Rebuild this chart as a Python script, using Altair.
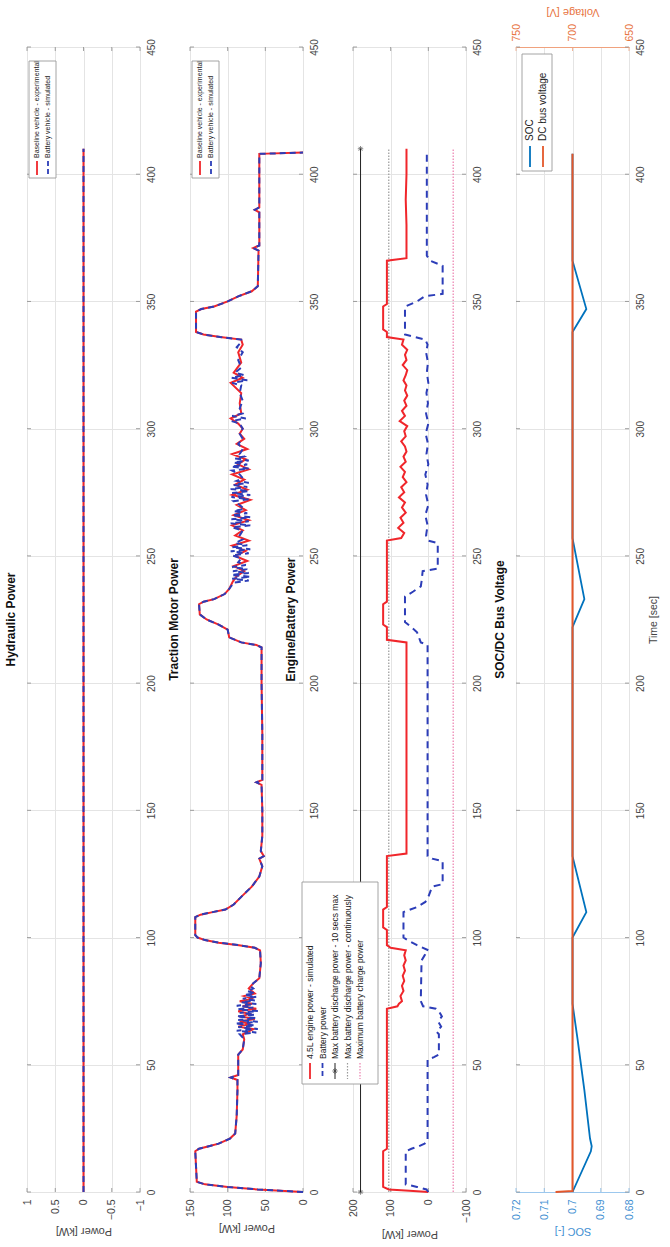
import altair as alt
import pandas as pd

FONT = "Liberation Sans"
RED = "#f0262b"
BLUE = "#2c3db8"
GRID = "#e4e4e4"
FRAME = "#a3a3a3"
TICK = "#8a8a8a"
TXT = "#444444"
SOC_C = "#0072BD"
SOC_LBL = "#3f8fd2"
VOLT_C = "#e4572a"
VOLT_LBL = "#e8743f"

PANEL_W = 113
PANEL_H = 1145
TICK_LEN = 4

# ---------------- data ----------------
time_ticks = [0, 50, 100, 150, 200, 250, 300, 350, 400, 450]

# Hydraulic power [kW]
hyd_time = [0, 410]
hyd_baseline = [0, 0]
hyd_battery = [0, 0]
hyd_ticks = [-1, -0.5, 0, 0.5, 1]

# Traction motor power [kW], baseline vehicle (experimental)
trac_time = [0, 1, 2, 3, 4, 16, 17, 18, 19, 21, 23, 30, 40, 44, 45, 46, 54, 56, 60, 62,
             64, 65, 66, 67, 68, 69, 70, 71, 72, 73, 74, 75, 76, 77, 78, 80, 82, 84, 90, 95,
             96, 97, 98, 99, 100, 101, 108, 109, 110, 111, 113, 116, 120, 124, 128, 131, 132, 134, 140, 150,
             160, 161, 162, 180, 200, 214, 215, 216, 218, 221, 223, 225, 227, 231, 232, 233, 235, 237, 240, 242,
             244, 246, 248, 250, 252, 254, 256, 258, 260, 262, 264, 266, 268, 270, 272, 274, 276, 278, 280, 282,
             284, 286, 288, 290, 292, 294, 296, 298, 300, 302, 304, 306, 310, 314, 318, 320, 322, 326, 330, 333,
             335, 336, 337, 338, 346, 347, 348, 350, 352, 354, 356, 370, 371, 372, 385, 386, 387, 400, 408, 408.5]
trac_baseline = [0, 60, 100, 130, 141, 143, 138, 125, 112, 97, 90, 88, 87, 87, 96, 86, 86, 80, 78, 80,
                 66, 86, 70, 84, 64, 82, 72, 86, 62, 80, 68, 84, 66, 78, 64, 72, 66, 58, 56, 57,
                 64, 85, 112, 130, 140, 143, 143, 136, 120, 103, 92, 82, 68, 58, 54, 58, 52, 56, 54, 54,
                 55, 62, 54, 54, 55, 55, 62, 82, 98, 100, 112, 128, 137, 138, 132, 118, 104, 98, 93, 88,
                 78, 92, 74, 90, 76, 94, 72, 90, 80, 94, 72, 92, 76, 88, 70, 94, 74, 90, 78, 94,
                 72, 86, 76, 94, 74, 88, 78, 84, 80, 86, 96, 82, 84, 82, 96, 80, 92, 82, 86, 80,
                 82, 110, 132, 142, 142, 135, 118, 100, 86, 68, 60, 59, 66, 58, 58, 64, 58, 58, 58, 0]
trac_ticks = [0, 50, 100, 150]

# Battery vehicle (simulated): same profile, its own oscillations in the busy stretches
sim_noise_a_time = [62, 62.7, 63.4, 64.1, 64.8, 65.5, 66.2, 66.9, 67.6, 68.3, 69, 69.7, 70.4, 71.1,
                    71.8, 72.5, 73.2, 73.9, 74.6, 75.3, 76, 76.7, 77.4, 78.1, 79, 80, 81]
sim_noise_a_value = [84, 62, 88, 60, 86, 64, 90, 60, 86, 62, 88, 64, 84, 60,
                     86, 66, 88, 62, 82, 64, 80, 62, 78, 64, 74, 66, 70]
sim_noise_b_time = [239.5, 240.3, 241.0, 241.8, 242.5, 243.3, 244.0, 244.8, 245.6, 246.4, 247.5, 249,
                    250.2, 251, 251.8, 252.6, 253.4, 254.2, 255, 256.5, 258, 260, 261.2, 262, 262.8,
                    263.6, 264.4, 265.2, 266, 266.8, 267.6, 268.5, 270, 271.5, 272.3, 273.1, 273.9,
                    274.7, 275.5, 276.3, 277.1, 277.9, 278.7, 279.5, 280.5, 282, 283.5, 284.3, 285.1,
                    285.9, 286.7, 287.5, 288.3, 289.1, 290, 292, 294, 296, 298, 300, 302, 303, 304,
                    305, 306, 308, 311, 314, 317, 318, 319, 320, 321, 322, 324, 327, 330, 332, 334]
sim_noise_b_value = [92, 72, 94, 70, 95, 72, 93, 74, 94, 76, 86, 82,
                     94, 72, 96, 70, 94, 74, 90, 80, 84, 80, 94, 70, 96,
                     72, 95, 70, 94, 74, 92, 78, 84, 92, 72, 95, 70,
                     94, 72, 96, 74, 92, 72, 88, 80, 84, 94, 72, 95,
                     74, 92, 72, 90, 78, 84, 80, 86, 80, 84, 80, 84, 95, 76,
                     94, 80, 84, 80, 84, 82, 94, 74, 95, 78, 90, 82, 86, 80, 88, 82]

# Engine / battery power [kW]
eng_time = [0, 0.5, 1, 2, 16, 17, 72, 73, 74, 75, 77, 79, 81, 83, 85, 87, 89, 91, 93, 95,
            96, 97, 103, 104, 111, 112, 132, 133, 216, 217, 222, 223, 231, 232, 256, 257, 259, 261, 263, 265,
            267, 269, 271, 273, 275, 277, 279, 281, 283, 285, 287, 289, 291, 293, 295, 297, 299, 301, 303, 305,
            307, 309, 311, 313, 315, 317, 319, 321, 323, 325, 327, 329, 331, 333, 335, 336, 338, 339, 348, 349,
            366, 367, 380, 390, 400, 410]
eng_value = [0, 50, 105, 120, 120, 110, 110, 82, 78, 70, 74, 66, 70, 64, 68, 62, 66, 60, 64, 60,
             100, 110, 110, 120, 120, 110, 110, 58, 58, 110, 110, 120, 120, 110, 110, 72, 64, 80, 66, 74,
             60, 70, 62, 78, 64, 72, 58, 68, 62, 74, 60, 66, 58, 62, 72, 60, 64, 56, 76, 62,
             70, 58, 64, 56, 62, 58, 66, 60, 56, 68, 58, 62, 56, 70, 66, 110, 110, 120, 120, 110,
             110, 58, 58, 60, 58, 58]

bat_time = [0, 1, 2, 3, 16, 17, 18, 19, 20, 52, 53, 54, 62, 63, 65, 67, 69, 71, 72, 73,
            75, 91, 93, 95, 97, 99, 100, 110, 112, 114, 116, 120, 121, 130, 131, 132, 215, 216, 220, 222,
            224, 234, 236, 238, 240, 244, 245, 255, 256, 258, 262, 266, 270, 274, 278, 282, 286, 290, 294, 298,
            302, 306, 310, 314, 318, 322, 326, 330, 333, 335, 337, 348, 350, 352, 353, 364, 366, 368, 408]
bat_value = [0, 5, 30, 60, 60, 45, 25, 10, 2, 2, -15, -28, -28, -22, -34, -26, -36, -28, -20, 14,
             20, 18, 10, 0, 30, 55, 66, 66, 30, 8, 0, -10, -38, -38, -10, 2, 2, 20, 30, 45,
             62, 62, 40, 20, 18, 15, -25, -25, 0, 6, 2, 8, 0, 6, 2, 8, 0, 5, 1, 7,
             0, 6, 1, 5, 0, 4, 1, 6, 2, 8, 62, 62, 30, 10, -38, -38, -5, 4, 4]
eng_ticks = [-100, 0, 100, 200]

# battery limits [kW]
limit_time = [0, 410]
max_discharge_10s = 180
max_discharge_cont = 105
max_charge = -66

# SOC [-] and DC bus voltage [V]
soc_time = [0, 16, 18, 21, 40, 60, 74, 100, 110, 132, 222, 233, 257, 338, 347, 366, 408]
soc_value = [0.700, 0.6935, 0.6932, 0.6938, 0.6958, 0.6982, 0.700, 0.700, 0.6951, 0.700,
             0.700, 0.6958, 0.700, 0.700, 0.6951, 0.700, 0.700]
soc_ticks = [0.68, 0.69, 0.70, 0.71, 0.72]
volt_time = [0, 0.4, 408]
volt_value = [715, 700, 700]
volt_ticks = [650, 700, 750]


def frame(t, v):
    return pd.DataFrame({"t": t, "v": v})


def spliced(base_t, base_v, windows):
    rows = [(a, b) for a, b in zip(base_t, base_v)
            if not any(w_t[0] - 0.3 <= a <= w_t[-1] + 0.3 for w_t, _ in windows)]
    for w_t, w_v in windows:
        rows += list(zip(w_t, w_v))
    rows.sort()
    return frame([r[0] for r in rows], [r[1] for r in rows])


# ---------------- axes ----------------
def time_y(title=None):
    return alt.Y(
        "t:Q",
        scale=alt.Scale(domain=[0, 450], nice=False, zero=False),
        axis=alt.Axis(
            orient="right", values=time_ticks, labelAngle=270, labelAlign="center",
            labelBaseline="top", labelPadding=6, labelFont=FONT, labelFontSize=10,
            labelColor=TXT, ticks=False, domain=False, grid=True, gridColor=GRID,
            title=title, titleAngle=270, titleBaseline="top", titleFont=FONT,
            titleFontSize=10.5, titleFontWeight="normal", titleColor=TXT, titlePadding=3,
        ),
    )


def power_x(domain, ticks, title="Power [kW]", color=TXT, fmt="~r", grid=True, dom_color=None):
    return alt.X(
        "v:Q",
        scale=alt.Scale(domain=domain, reverse=True, nice=False, zero=False),
        axis=alt.Axis(
            orient="bottom", values=ticks, format=fmt, labelAngle=270, labelAlign="right",
            labelBaseline="middle", labelPadding=7, labelFont=FONT, labelFontSize=10.5,
            labelColor=color, ticks=False, domain=dom_color is not None,
            domainColor=dom_color or FRAME, grid=grid, gridColor=GRID,
            title=title, titleAngle=180, titleBaseline="bottom", titleFont=FONT,
            titleFontSize=11, titleFontWeight="normal", titleColor=color, titlePadding=6,
        ),
    )


def line(df, x, y, color, width=1.8, dash=None):
    kw = dict(color=color, strokeWidth=width)
    if dash:
        kw["strokeDash"] = dash
    return alt.Chart(df).mark_line(**kw).encode(x=x, y=y, order="t:Q")


def time_edge_ticks(y):
    """Short inward ticks on both long edges at every time tick."""
    df = pd.DataFrame({"t": time_ticks})
    return [
        alt.Chart(df).mark_rule(color=TICK, strokeWidth=0.8).encode(
            y=y, x=alt.value(0), x2=alt.value(TICK_LEN)),
        alt.Chart(df).mark_rule(color=TICK, strokeWidth=0.8).encode(
            y=y, x=alt.value(PANEL_W - TICK_LEN), x2=alt.value(PANEL_W)),
    ]


def power_edge_ticks(x, ticks, bottom=True, top=True, color=TICK):
    """Short inward ticks on the short edges at every power tick."""
    df = pd.DataFrame({"v": ticks})
    out = []
    if bottom:
        out.append(alt.Chart(df).mark_rule(color=color, strokeWidth=0.8).encode(
            x=x, y=alt.value(PANEL_H - TICK_LEN), y2=alt.value(PANEL_H)))
    if top:
        out.append(alt.Chart(df).mark_rule(color=color, strokeWidth=0.8).encode(
            x=x, y=alt.value(0), y2=alt.value(TICK_LEN)))
    return out


def panel_title(text):
    return alt.TitleParams(
        text, orient="left", anchor="middle",
        font=FONT, fontSize=12, fontWeight="bold", color="#111", offset=4,
    )


ONE = pd.DataFrame({"k": [0]})
STAR = "M-1,0L1,0M0,-1L0,1M-0.7,-0.7L0.7,0.7M-0.7,0.7L0.7,-0.7"


def legend(entries, box, xs, text_start, samp, size=8.5):
    x0, x1, y0, y1 = box
    layers = [
        alt.Chart(ONE).mark_rect(fill="white", stroke="#9a9a9a", strokeWidth=0.9).encode(
            x=alt.value(x0), x2=alt.value(x1), y=alt.value(y0), y2=alt.value(y1))
    ]
    for (label, style), x in zip(entries, xs):
        layers.append(
            alt.Chart(ONE).mark_text(
                text=label, angle=270, align="left", baseline="middle",
                font=FONT, fontSize=size, color="#222",
            ).encode(x=alt.value(x), y=alt.value(text_start))
        )
        rule_kw = dict(color=style["color"], strokeWidth=style.get("width", 1.8))
        if style.get("dash"):
            rule_kw["strokeDash"] = style["dash"]
        layers.append(
            alt.Chart(ONE).mark_rule(**rule_kw).encode(
                x=alt.value(x), y=alt.value(samp[0]), y2=alt.value(samp[1]))
        )
        if style.get("star"):
            layers.append(
                alt.Chart(ONE).mark_point(shape=STAR, size=30, filled=False,
                                          color=style["color"], strokeWidth=0.8).encode(
                    x=alt.value(x), y=alt.value((samp[0] + samp[1]) / 2))
            )
    return layers


solid_red = dict(color=RED, width=1.8)
dash_blue = dict(color=BLUE, width=1.8, dash=[5, 3])
two_entries = [("Baseline vehicle - experimental", solid_red),
               ("Battery vehicle - simulated", dash_blue)]

# ---------------- panel 1: hydraulic ----------------
x1 = power_x([-1, 1], hyd_ticks)
y_t = time_y()
p1 = alt.layer(
    *time_edge_ticks(y_t),
    *power_edge_ticks(x1, hyd_ticks),
    line(frame(hyd_time, hyd_baseline), x1, y_t, RED, 2),
    line(frame(hyd_time, hyd_battery), x1, y_t, BLUE, 2, [6, 4]),
    *legend(two_entries, (2, 29, 14, 131), [10, 21], 111, (114, 128), 7),
).properties(width=PANEL_W, height=PANEL_H, title=panel_title("Hydraulic Power"))

# ---------------- panel 2: traction motor ----------------
x2 = power_x([0, 150], trac_ticks)
trac_sim = spliced(trac_time, trac_baseline,
                   [(sim_noise_a_time, sim_noise_a_value), (sim_noise_b_time, sim_noise_b_value)])
p2 = alt.layer(
    *time_edge_ticks(y_t),
    *power_edge_ticks(x2, trac_ticks),
    line(frame(trac_time, trac_baseline), x2, y_t, RED, 2),
    line(trac_sim, x2, y_t, BLUE, 2, [6, 4]),
    *legend(two_entries, (2, 29, 14, 131), [10, 21], 111, (114, 128), 7),
).properties(width=PANEL_W, height=PANEL_H, title=panel_title("Traction Motor Power"))

# ---------------- panel 3: engine / battery ----------------
x3 = power_x([-100, 200], eng_ticks)
lim10 = frame(limit_time, [max_discharge_10s] * len(limit_time))
p3_entries = [
    ("4.5L engine power - simulated", solid_red),
    ("Battery power", dash_blue),
    ("Max battery discharge power - 10 secs max", dict(color="#222", width=1, star=True)),
    ("Max battery discharge power - continuously", dict(color="#9a9a9a", width=1.2, dash=[1.5, 1.5])),
    ("Maximum battery charge power", dict(color="#ec7fae", width=1.2, dash=[1.5, 1.5])),
]
p3 = alt.layer(
    *time_edge_ticks(y_t),
    *power_edge_ticks(x3, eng_ticks),
    line(frame(limit_time, [max_discharge_cont] * 2), x3, y_t, "#9a9a9a", 1.2, [1.5, 1.5]),
    line(frame(limit_time, [max_charge] * 2), x3, y_t, "#ec7fae", 1.2, [1.5, 1.5]),
    line(lim10, x3, y_t, "#222", 1),
    alt.Chart(lim10).mark_point(shape=STAR, size=30, filled=False, color="#222",
                                strokeWidth=0.8).encode(x=x3, y=y_t),
    line(frame(eng_time, eng_value), x3, y_t, RED, 2),
    line(frame(bat_time, bat_value), x3, y_t, BLUE, 2, [7, 5]),
    *legend(p3_entries, (-51, 25, 835, 1037), [-43, -30.5, -18, -5.5, 7], 1012, (1016, 1032), 8.5),
).properties(width=PANEL_W, height=PANEL_H, title=panel_title("Engine/Battery Power"))

# ---------------- panel 4: SOC / DC bus voltage ----------------
y_t4 = time_y("Time [sec]")
x_soc = power_x([0.68, 0.72], soc_ticks, title="SOC [-]",
                color=SOC_LBL, fmt=".2~f", dom_color="#9cc8ee")
x_volt = alt.X(
    "v:Q",
    scale=alt.Scale(domain=[650, 750], reverse=True, nice=False, zero=False),
    axis=alt.Axis(
        orient="top", values=volt_ticks, labelAngle=270, labelAlign="left",
        labelBaseline="middle", labelPadding=6, labelFont=FONT, labelFontSize=10.5,
        labelColor=VOLT_LBL, ticks=False, domain=True, domainColor="#f0a27e", grid=False,
        title="Voltage [V]", titleAngle=180, titleBaseline="top", titleFont=FONT,
        titleFontSize=11, titleFontWeight="normal", titleColor=VOLT_LBL, titlePadding=6,
    ),
)
p4_entries = [("SOC", dict(color=SOC_C, width=1.8)),
              ("DC bus voltage", dict(color=VOLT_C, width=1.8))]
soc_part = alt.layer(
    *time_edge_ticks(y_t4),
    *power_edge_ticks(x_soc, soc_ticks, top=False, color="#7fb5e3"),
    line(frame(soc_time, soc_value), x_soc, y_t4, SOC_C, 1.8),
)
volt_part = alt.layer(
    *power_edge_ticks(x_volt, volt_ticks, bottom=False, color="#f0a27e"),
    line(frame(volt_time, volt_value), x_volt, y_t4, VOLT_C, 2),
)
p4 = alt.layer(
    soc_part,
    volt_part,
    *legend(p4_entries, (6, 36, 7, 124), [14, 27], 94, (99, 120), 10),
).resolve_scale(x="independent").properties(
    width=PANEL_W, height=PANEL_H, title=panel_title("SOC/DC Bus Voltage"))

chart = alt.hconcat(p1, p2, p3, p4, spacing=50, bounds="flush").properties(
    padding={"left": 4, "top": 5, "right": 5, "bottom": 5}
).configure_view(stroke=FRAME, strokeWidth=1).configure(background="white")

chart.save("out.html", embed_options={"renderer": "svg", "actions": False})
